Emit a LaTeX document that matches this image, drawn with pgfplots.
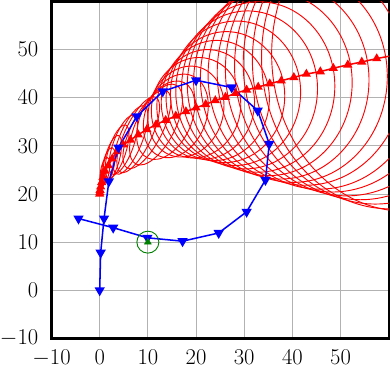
\documentclass[border=0pt]{standalone}
\usepackage{pgfplots}
\usepackage{pgfplotstable}
\pgfplotsset{compat=1.18}

% predicted track: centre, semi-axes (a along ang, b across), angle of a
\pgfplotstableread{
cx cy a b ang
0 20 0.15 0.05 90
0.02 20.3 0.3 0.1 88
0.08 20.8 0.55 0.18 87
0.2 21.5 0.9 0.3 86
0.4 22.4 1.4 0.45 84
0.7 23.5 2.0 0.6 82
1.1 24.8 2.8 0.9 80
1.8 25.9 3.8 1.2 78
2.6 27.3 5.0 1.5 75
3.6 28.8 5.8 1.8 72
4.9 30.2 6.5 2.1 70
6.4 31.2 7.6 2.4 68
8.0 32.3 8.6 2.8 65
9.8 33.4 9.0 3.2 63
11.7 34.4 9.2 4.0 63
13.7 35.3 8.7 5.2 64
15.8 36.2 9.0 6.3 68
17.9 37.1 9.6 7.7 72
20.0 37.9 10.5 9.2 76
22.0 38.6 11.4 10.1 80
24.0 39.4 12.5 11.2 83
26.1 40.1 13.6 12.3 85
28.2 40.9 15.0 13.5 86
30.5 41.6 16.4 14.7 86
32.9 42.2 17.7 15.9 87
35.3 42.9 19.1 17.1 87
37.7 43.5 20.4 18.2 88
40.3 44.2 21.8 19.4 88
42.9 44.9 23.1 20.4 88
45.8 45.4 24.4 21.4 88
48.5 46.1 25.7 22.4 88
51.5 46.8 27.2 23.5 88
54.4 47.4 28.6 24.6 88
57.5 48.1 30.2 25.8 88
60.6 48.7 31.8 27.0 88
63.8 49.4 33.0 28.1 88
}\track

% true path
\pgfplotstableread{
x y
0 0
0.2 7.8
0.9 14.9
1.9 22.6
3.9 29.6
7.7 36.1
13.1 41.3
20.0 43.6
27.4 42.1
32.8 37.3
35.2 30.4
34.4 22.9
30.5 16.3
24.7 11.9
17.2 10.2
9.9 10.9
2.8 13.0
-4.4 14.9
}\truepath

\begin{document}
\begin{tikzpicture}
\begin{axis}[
  width=310pt, height=310pt, scale only axis,
  xmin=-10, xmax=60, ymin=-10, ymax=60,
  xtick={-10,0,...,50}, ytick={-10,0,...,50},
  grid=major, grid style={gray!60, line width=0.75pt},
  major tick length=0pt,
  axis line style={line width=2.3pt},
  tick label style={font=\fontsize{20.74}{24}\selectfont},
  yticklabel style={inner sep=0pt, xshift=-12pt},
  xticklabel style={inner xsep=0pt, inner ysep=3.7pt, yshift=-6.5pt},
]
\pgfplotsinvokeforeach{0,...,35}{
  \pgfplotstablegetelem{#1}{cx}\of\track \let\cx\pgfplotsretval
  \pgfplotstablegetelem{#1}{cy}\of\track \let\cy\pgfplotsretval
  \pgfplotstablegetelem{#1}{a}\of\track \let\ra\pgfplotsretval
  \pgfplotstablegetelem{#1}{b}\of\track \let\rb\pgfplotsretval
  \pgfplotstablegetelem{#1}{ang}\of\track \let\ang\pgfplotsretval
  \edef\doell{\noexpand\draw[red, line width=0.85pt,
    rotate around={\ang:(axis cs:\cx,\cy)}]
    (axis cs:\cx,\cy) ellipse [x radius=\ra, y radius=\rb];}
  \doell
}
\addplot[red, line width=1.4pt, mark=triangle*, mark size=3.5pt]
  table[x=cx, y=cy] {\track};
\addplot[blue, line width=1.4pt, mark=triangle*, mark size=4.1pt,
  mark options={rotate=180}] table {\truepath};
\addplot[green!50!black, only marks, mark=o, mark size=10.1pt, line width=0.85pt]
  coordinates {(10,10)};
\addplot[green!50!black, only marks, mark=triangle*, mark size=3.7pt]
  coordinates {(10,10)};
\end{axis}
\end{tikzpicture}
\end{document}
